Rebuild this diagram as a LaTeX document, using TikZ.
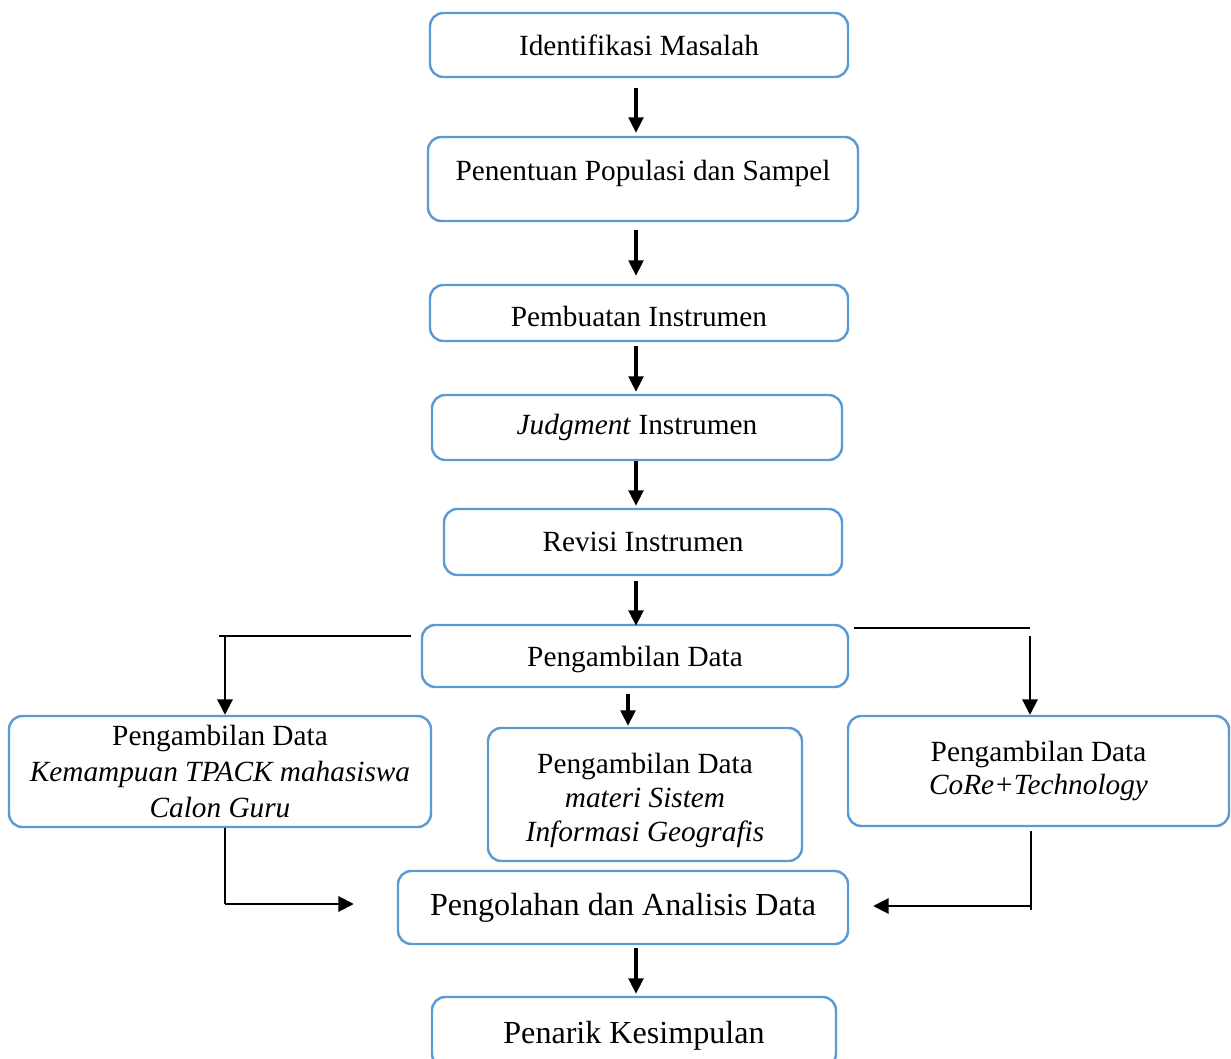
\documentclass[tikz,border=0pt]{standalone}
\usepackage{fontspec}
\setmainfont{Liberation Serif}
\usetikzlibrary{arrows.meta,calc,positioning}
\definecolor{boxline}{RGB}{91,155,213}

\begin{document}
\begin{tikzpicture}[
  font=\fontsize{12.5}{14.5}\selectfont,
  block/.style={
    draw=boxline,
    line width=1.05pt,
    rounded corners=2mm,
    inner sep=0pt,
    align=center,
    text=black
  },
  bigtext/.style={font=\fontsize{13.7}{16}\selectfont},
  flow/.style={
    draw=black,
    line width=1.3pt,
    -{Triangle[length=2.3mm,width=2.2mm]}
  },
  branch/.style={
    draw=black,
    line width=0.85pt,
    -{Triangle[length=2.3mm,width=2.3mm]}
  },
  link/.style={
    draw=black,
    line width=0.45pt
  }
]
\useasboundingbox (0,0) rectangle (18.465,-15.885);

% Main column
\node[block,minimum width=6.27cm,minimum height=0.96cm] (identifikasi) at (9.585,-0.675)
  {Identifikasi Masalah};
\node[block,minimum width=6.45cm,minimum height=1.26cm,text depth=0.245cm] (populasi) at (9.645,-2.685)
  {Penentuan Populasi dan Sampel};
\node[block,minimum width=6.27cm,minimum height=0.84cm,text height=0.42cm] (pembuatan) at (9.585,-4.695)
  {Pembuatan Instrumen};
\node[block,minimum width=6.15cm,minimum height=0.975cm] (judgment) at (9.555,-6.4125)
  {\textit{Judgment} Instrumen};
\node[block,minimum width=5.97cm,minimum height=0.99cm] (revisi) at (9.645,-8.13)
  {Revisi Instrumen};
\node[block,minimum width=6.39cm,minimum height=0.93cm,text depth=0pt] (pengambilan) at (9.525,-9.84)
  {Pengambilan Data};

% Three data collections
\node[block,minimum width=6.33cm,minimum height=1.665cm,font=\fontsize{12.5}{15.2}\selectfont] (tpack) at (3.3,-11.5725)
  {Pengambilan Data\\\textit{Kemampuan TPACK mahasiswa}\\\textit{Calon Guru}};
\node[block,minimum width=4.71cm,minimum height=1.995cm] (sig) at (9.675,-11.9175)
  {\rule{0pt}{0.48cm}Pengambilan Data\\\textit{materi Sistem}\\\textit{Informasi Geografis}};
\node[block,minimum width=5.715cm,minimum height=1.65cm] (core) at (15.5775,-11.565)
  {Pengambilan Data\\\textit{CoRe+Technology}};

% Analysis and conclusion
\node[block,bigtext,minimum width=6.75cm,minimum height=1.095cm] (pengolahan) at (9.345,-13.6125)
  {Pengolahan dan Analisis Data};
\node[block,bigtext,minimum width=6.06cm,minimum height=1.05cm,text depth=0pt] (kesimpulan) at (9.51,-15.48)
  {Penarik Kesimpulan};

% Helper points for the connectors
\coordinate (spine) at (9.54,0);
\coordinate (dropmid) at (9.42,0);
\coordinate (splitL) at (3.375,-9.54);
\coordinate (splitR) at (15.45,-9.42);
\coordinate (joinL) at (3.375,-13.56);
\coordinate (joinR) at (15.465,-13.59);

% Main flow
\draw[flow,shorten <=0.15cm,shorten >=0.045cm] (identifikasi.south -| spine) -- (populasi.north -| spine);
\draw[flow,shorten <=0.12cm,shorten >=0.12cm] (populasi.south -| spine) -- (pembuatan.north -| spine);
\draw[flow,shorten <=0.06cm,shorten >=0.03cm] (pembuatan.south -| spine) -- (judgment.north -| spine);
\draw[flow,shorten >=0.03cm] (judgment.south -| spine) -- (revisi.north -| spine);
\draw[flow,shorten <=0.075cm,shorten >=-0.03cm] (revisi.south -| spine) -- (pengambilan.north -| spine);
\draw[flow,shorten <=0.09cm,shorten >=0.015cm] (pengambilan.south -| dropmid) -- (sig.north -| dropmid);
\draw[flow,shorten <=0.045cm,shorten >=0.03cm] (pengolahan.south -| spine) -- (kesimpulan.north -| spine);

% Side branches
\draw[link] ([xshift=-0.15cm]pengambilan.west |- splitL) -- ([xshift=-0.09cm]splitL);
\draw[branch] (splitL) -- (splitL |- tpack.north);
\draw[link] ([xshift=0.075cm]pengambilan.east |- splitR) -- (splitR);
\draw[branch] ([yshift=-0.12cm]splitR) -- (splitR |- core.north);

% Back into the analysis
\draw[link] (tpack.south -| joinL) -- (joinL);
\draw[branch] (joinL) -- ([xshift=-0.645cm]pengolahan.west |- joinL);
\draw[link] ([yshift=-0.06cm]core.south -| joinR) -- ([yshift=-0.06cm]joinR);
\draw[branch] (joinR) -- ([xshift=0.36cm]pengolahan.east |- joinR);

\end{tikzpicture}
\end{document}
